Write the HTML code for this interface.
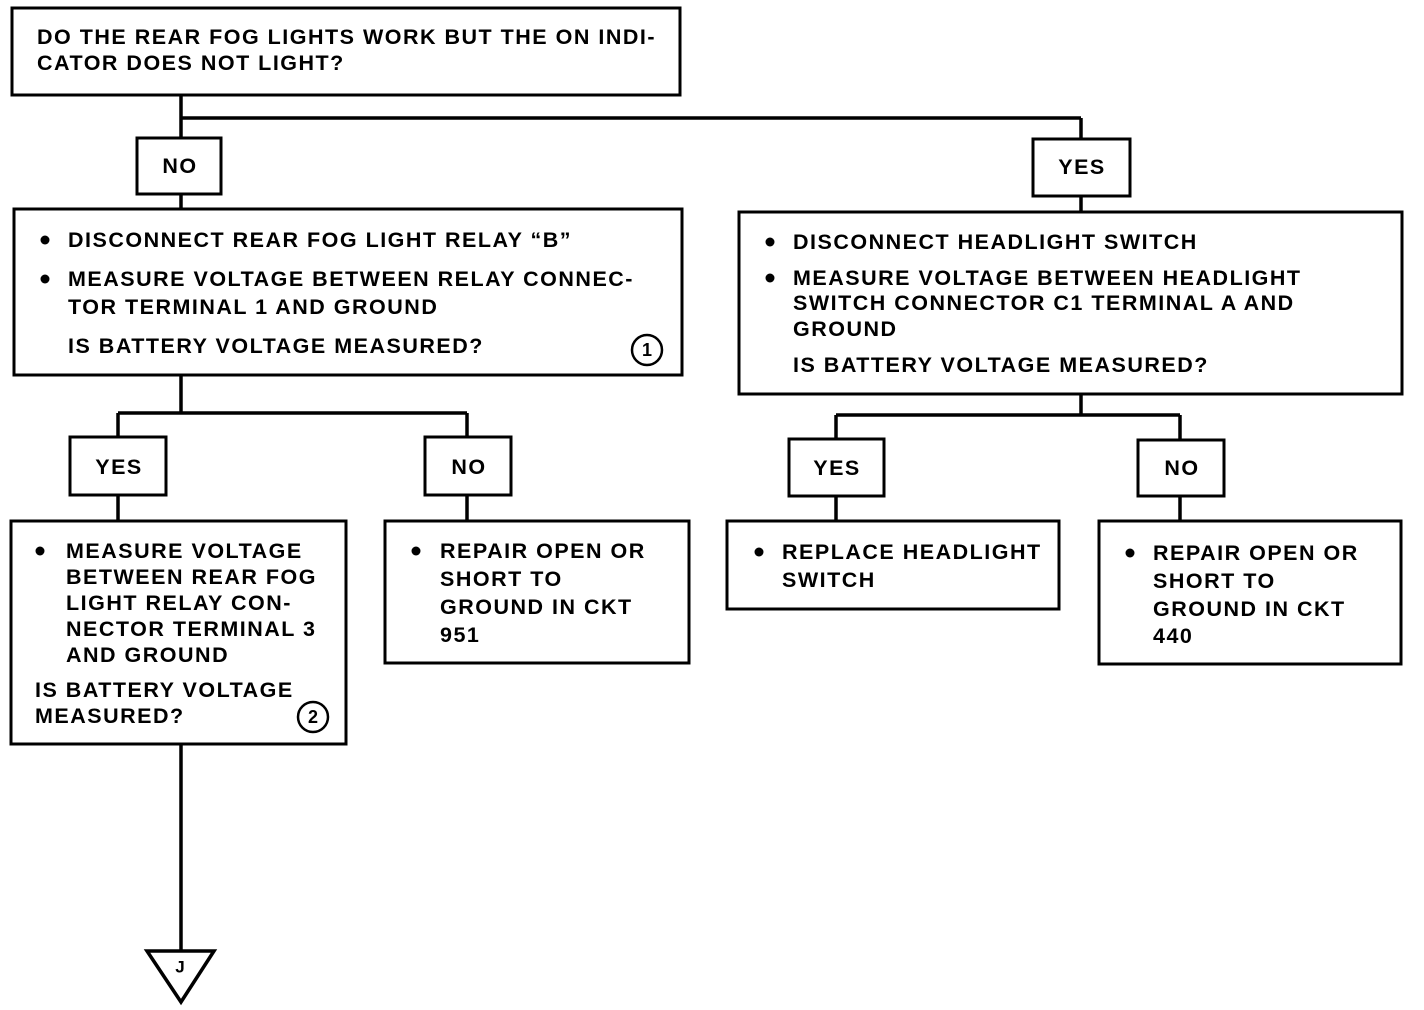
<!DOCTYPE html>
<html><head><meta charset="utf-8"><style>
html,body{margin:0;padding:0;background:#fff;}
svg{display:block}
text{font-family:"Liberation Sans",Arial,sans-serif;font-weight:bold;font-size:21.5px;letter-spacing:1.5px;fill:#000;dominant-baseline:central}
text.c{letter-spacing:0}
rect{fill:#fff;stroke:#000;stroke-width:3}
line,path{stroke:#000;stroke-width:3.5;fill:none}
circle.b{fill:#000;stroke:none}
circle.n{fill:#fff;stroke:#000;stroke-width:2.5}
</style></head><body>
<svg width="1424" height="1010" viewBox="0 0 1424 1010" xmlns="http://www.w3.org/2000/svg">
<line x1="181" y1="95" x2="181" y2="209"/>
<line x1="181" y1="118" x2="1081" y2="118"/>
<line x1="1081" y1="118" x2="1081" y2="212"/>
<line x1="181" y1="375" x2="181" y2="413"/>
<line x1="118" y1="413" x2="467" y2="413"/>
<line x1="118" y1="413" x2="118" y2="521"/>
<line x1="467" y1="413" x2="467" y2="521"/>
<line x1="1081" y1="394" x2="1081" y2="415"/>
<line x1="836" y1="415" x2="1180" y2="415"/>
<line x1="836" y1="415" x2="836" y2="521"/>
<line x1="1180" y1="415" x2="1180" y2="521"/>
<line x1="181" y1="744" x2="181" y2="950"/>
<path d="M147 951 L214 951 L181 1002 Z"/>
<text class="c" x="180" y="967" style="font-size:17px" text-anchor="middle">J</text>

<rect x="12" y="8" width="668" height="87"/>
<text x="37" y="37">DO THE REAR FOG LIGHTS WORK BUT THE ON INDI-</text>
<text x="37" y="63">CATOR DOES NOT LIGHT?</text>

<rect x="137" y="138" width="84" height="56"/>
<text x="180" y="166" text-anchor="middle">NO</text>
<rect x="1033" y="139" width="97" height="57"/>
<text x="1082" y="167" text-anchor="middle">YES</text>

<rect x="14" y="209" width="668" height="166"/>
<circle class="b" cx="45" cy="240" r="4.5"/>
<text x="68" y="240">DISCONNECT REAR FOG LIGHT RELAY “B”</text>
<circle class="b" cx="45" cy="279" r="4.5"/>
<text x="68" y="279">MEASURE VOLTAGE BETWEEN RELAY CONNEC-</text>
<text x="68" y="307">TOR TERMINAL 1 AND GROUND</text>
<text x="68" y="346">IS BATTERY VOLTAGE MEASURED?</text>
<circle class="n" cx="647" cy="350" r="15"/>
<text class="c" x="647" y="350" style="font-size:18px" text-anchor="middle">1</text>

<rect x="739" y="212" width="663" height="182"/>
<circle class="b" cx="770" cy="242" r="4.5"/>
<text x="793" y="242">DISCONNECT HEADLIGHT SWITCH</text>
<circle class="b" cx="770" cy="278" r="4.5"/>
<text x="793" y="278">MEASURE VOLTAGE BETWEEN HEADLIGHT</text>
<text x="793" y="303">SWITCH CONNECTOR C1 TERMINAL A AND</text>
<text x="793" y="329">GROUND</text>
<text x="793" y="365">IS BATTERY VOLTAGE MEASURED?</text>

<rect x="70" y="437" width="96" height="58"/>
<text x="119" y="467" text-anchor="middle">YES</text>
<rect x="425" y="437" width="86" height="58"/>
<text x="469" y="467" text-anchor="middle">NO</text>
<rect x="789" y="439" width="95" height="57"/>
<text x="837" y="468" text-anchor="middle">YES</text>
<rect x="1138" y="440" width="86" height="56"/>
<text x="1182" y="468" text-anchor="middle">NO</text>

<rect x="11" y="521" width="335" height="223"/>
<circle class="b" cx="40" cy="551" r="4.5"/>
<text x="66" y="551">MEASURE VOLTAGE</text>
<text x="66" y="577">BETWEEN REAR FOG</text>
<text x="66" y="603">LIGHT RELAY CON-</text>
<text x="66" y="629">NECTOR TERMINAL 3</text>
<text x="66" y="655">AND GROUND</text>
<text x="35" y="690">IS BATTERY VOLTAGE</text>
<text x="35" y="716">MEASURED?</text>
<circle class="n" cx="313" cy="717" r="15"/>
<text class="c" x="313" y="717" style="font-size:18px" text-anchor="middle">2</text>

<rect x="385" y="521" width="304" height="142"/>
<circle class="b" cx="416" cy="551" r="4.5"/>
<text x="440" y="551">REPAIR OPEN OR</text>
<text x="440" y="579">SHORT TO</text>
<text x="440" y="607">GROUND IN CKT</text>
<text x="440" y="635">951</text>

<rect x="727" y="521" width="332" height="88"/>
<circle class="b" cx="759" cy="552" r="4.5"/>
<text x="782" y="552">REPLACE HEADLIGHT</text>
<text x="782" y="580">SWITCH</text>

<rect x="1099" y="521" width="302" height="143"/>
<circle class="b" cx="1130" cy="553" r="4.5"/>
<text x="1153" y="553">REPAIR OPEN OR</text>
<text x="1153" y="581">SHORT TO</text>
<text x="1153" y="609">GROUND IN CKT</text>
<text x="1153" y="636">440</text>
</svg>
</body></html>
